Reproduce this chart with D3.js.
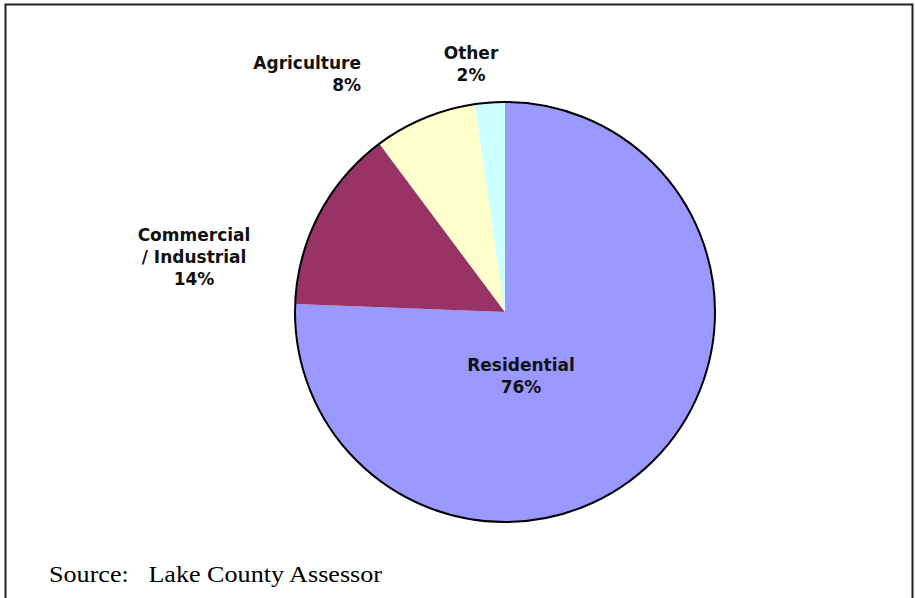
<!DOCTYPE html>
<html>
<head>
<meta charset="utf-8">
<script src="https://cdn.jsdelivr.net/npm/d3@7"></script>
<style>
  body { margin: 0; background: #fff; }
  .slice-label { font-family: "DejaVu Sans", Verdana, sans-serif; font-weight: bold; font-size: 17px; fill: #111; }
  .source { font-family: "Liberation Serif", "Times New Roman", serif; font-size: 23px; fill: #000; }
</style>
</head>
<body>
<div id="chart"></div>
<script>
// data
var categories = ["Residential", "Commercial / Industrial", "Agriculture", "Other"];
var shares = [75.6, 14.2, 7.9, 2.3];
var sliceColors = ["#9999ff", "#993366", "#ffffcc", "#ccffff"];
// label lines (as printed on the chart)
var labelLines = [["Residential"], ["Commercial", "/ Industrial"], ["Agriculture"], ["Other"]];

var svgWidth = 915;
var svgHeight = 598;
var center = {x: 505, y: 312};
var radius = 210;

var svg = d3.select("#chart")
  .append("svg")
  .attr("width", svgWidth)
  .attr("height", svgHeight);

// outer frame (bottom edge runs off the page)
svg.append("rect")
  .attr("x", 5.5)
  .attr("y", 4.5)
  .attr("width", 907)
  .attr("height", 640)
  .attr("fill", "none")
  .attr("stroke", "#222")
  .attr("stroke-width", 2);

var data = categories.map(function(c, i) {
  return {name: c, value: shares[i], color: sliceColors[i], lines: labelLines[i]};
});

var pie = d3.pie()
  .sort(null)
  .value(d => d.value);

var arc = d3.arc()
  .innerRadius(0)
  .outerRadius(radius);

var pieGroup = svg.append("g")
  .attr("transform", `translate(${center.x}, ${center.y})`);

pieGroup.selectAll("path.slice")
  .data(pie(data))
  .enter()
  .append("path")
  .classed("slice", true)
  .attr("d", arc)
  .attr("fill", d => d.data.color);

// black outline only around the circle
pieGroup.append("circle")
  .attr("r", radius)
  .attr("fill", "none")
  .attr("stroke", "#000")
  .attr("stroke-width", 2);

// label placement: [x, y of first baseline, anchor]
var labelPos = [
  [521, 371, "middle"],
  [194, 241, "middle"],
  [361, 69, "end"],
  [471, 59, "middle"]
];

pie(data).forEach(function(d, i) {
  var pct = Math.round(d.data.value) + "%";
  var lines = d.data.lines.concat([pct]);
  var t = svg.append("text")
    .classed("slice-label", true)
    .attr("text-anchor", labelPos[i][2]);
  lines.forEach(function(line, j) {
    t.append("tspan")
      .attr("x", labelPos[i][0])
      .attr("y", labelPos[i][1] + j * 22)
      .text(line);
  });
});

svg.append("text")
  .classed("source", true)
  .attr("x", 49)
  .attr("y", 582)
  .attr("xml:space", "preserve")
  .attr("textLength", 333)
  .attr("lengthAdjust", "spacingAndGlyphs")
  .text("Source:   Lake County Assessor");
</script>
</body>
</html>
